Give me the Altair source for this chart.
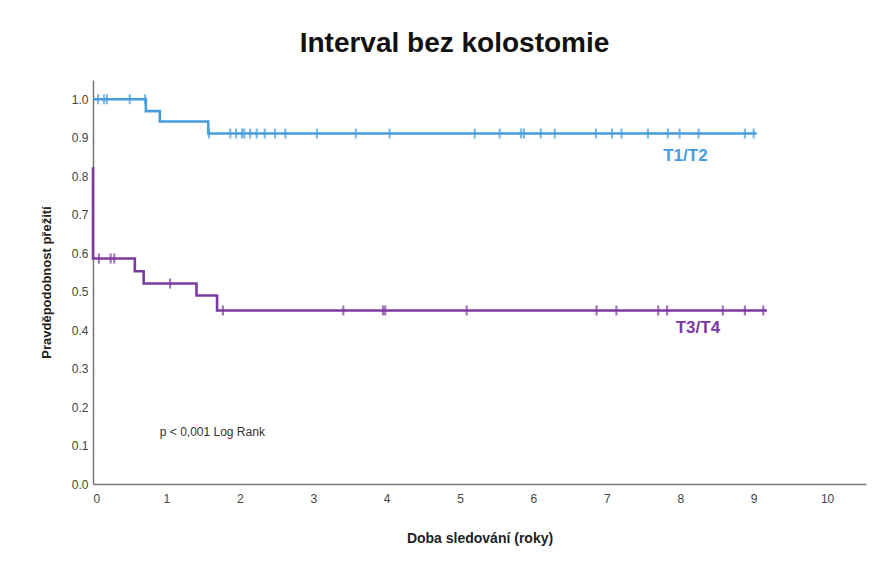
import altair as alt
import pandas as pd

# Kaplan-Meier step curves (time in years, survival probability)
blue_time = [0.0, 0.72, 0.91, 1.57, 9.04]
blue_surv = [1.0, 0.969, 0.942, 0.911, 0.911]
blue_censor = [0.07, 0.15, 0.19, 0.50, 0.71, 1.58, 1.87, 1.95, 2.03, 2.06, 2.14, 2.23,
               2.34, 2.48, 2.62, 3.05, 3.58, 4.04, 5.20, 5.54, 5.83, 5.87, 6.10, 6.29,
               6.85, 7.07, 7.20, 7.56, 7.83, 7.99, 8.25, 8.88, 9.00]

purple_time = [0.0, 0.0, 0.57, 0.69, 1.41, 1.69, 9.18]
purple_surv = [0.823, 0.586, 0.553, 0.521, 0.490, 0.451, 0.451]
purple_censor = [0.08, 0.24, 0.29, 1.05, 1.77, 3.41, 3.95, 3.98, 5.09, 6.86, 7.13,
                 7.70, 7.82, 8.58, 8.88, 9.13]

groups = ["T1/T2", "T3/T4"]
colors = ["#479ddb", "#7b3aa0"]

label_x = [8.07, 8.24]
label_y = [0.852, 0.406]


def step_lookup(times, survs, t):
    val = survs[0]
    for tt, ss in zip(times, survs):
        if tt <= t:
            val = ss
    return val


line_rows = []
for g, ts, ss in [(groups[0], blue_time, blue_surv), (groups[1], purple_time, purple_surv)]:
    for i, (t, s) in enumerate(zip(ts, ss)):
        line_rows.append({"group": g, "t": t, "s": s, "idx": i})
lines_df = pd.DataFrame(line_rows)

cens_rows = []
for g, cs, ts, ss in [(groups[0], blue_censor, blue_time, blue_surv),
                      (groups[1], purple_censor, purple_time, purple_surv)]:
    for c in cs:
        cens_rows.append({"group": g, "t": c, "s": step_lookup(ts, ss, c)})
cens_df = pd.DataFrame(cens_rows)

labels_df = pd.DataFrame({"group": groups, "t": label_x, "s": label_y})
pval_df = pd.DataFrame({"t": [0.91], "s": [0.135], "txt": ["p < 0,001  Log Rank"]})

W, H = 773, 404
FONT = "Liberation Sans"

xscale = alt.Scale(domain=[0, 10.53], nice=False, zero=False)
yscale = alt.Scale(domain=[0, 1.05], nice=False)
cscale = alt.Scale(domain=groups, range=colors)

xax = alt.X("t:Q", scale=xscale,
            axis=alt.Axis(title="Doba sledování (roky)", values=list(range(0, 11)), format="d",
                          grid=False, ticks=False, domainColor="#777", domainWidth=1.5,
                          labelFont=FONT, labelFontSize=12, labelColor="#444", labelPadding=9,
                          titleFont=FONT, titleFontSize=14, titleFontWeight="bold",
                          titleColor="#222", titlePadding=27))
yax = alt.Y("s:Q", scale=yscale,
            axis=alt.Axis(title="Pravděpodobnost přežití", values=[i / 10 for i in range(11)],
                          format=".1f", grid=False, ticks=False, domainColor="#777",
                          domainWidth=1.5, labelFont=FONT, labelFontSize=12, labelColor="#444",
                          labelPadding=5, titleFont=FONT, titleFontSize=13,
                          titleFontWeight="bold", titleColor="#222", titlePadding=18))

lines = alt.Chart(lines_df).mark_line(interpolate="step-after", strokeWidth=2.6).encode(
    x=xax, y=yax,
    color=alt.Color("group:N", scale=cscale, legend=None),
    order=alt.Order("idx:Q"),
    detail="group:N",
)

ticks = alt.Chart(cens_df).mark_tick(orient="vertical", size=10, thickness=2.2).encode(
    x="t:Q", y="s:Q", color=alt.Color("group:N", scale=cscale, legend=None)
)

labels = alt.Chart(labels_df).mark_text(font=FONT, fontSize=17, fontWeight="bold").encode(
    x="t:Q", y="s:Q", text="group:N", color=alt.Color("group:N", scale=cscale, legend=None)
)

pval = alt.Chart(pval_df).mark_text(font=FONT, fontSize=12, color="#333", align="left").encode(
    x="t:Q", y="s:Q", text="txt:N"
)

chart = alt.layer(lines, ticks, labels, pval).properties(
    width=W, height=H,
    title=alt.TitleParams("Interval bez kolostomie", font=FONT, fontSize=28, fontWeight="bold",
                          color="#111", anchor="middle", dx=-25, offset=22),
    autosize=alt.AutoSizeParams(type="none"),
    padding={"left": 85, "top": 72, "right": 8, "bottom": 80},
).configure_view(stroke=None)

chart.save("out.html", embed_options={"renderer": "svg", "actions": False})
